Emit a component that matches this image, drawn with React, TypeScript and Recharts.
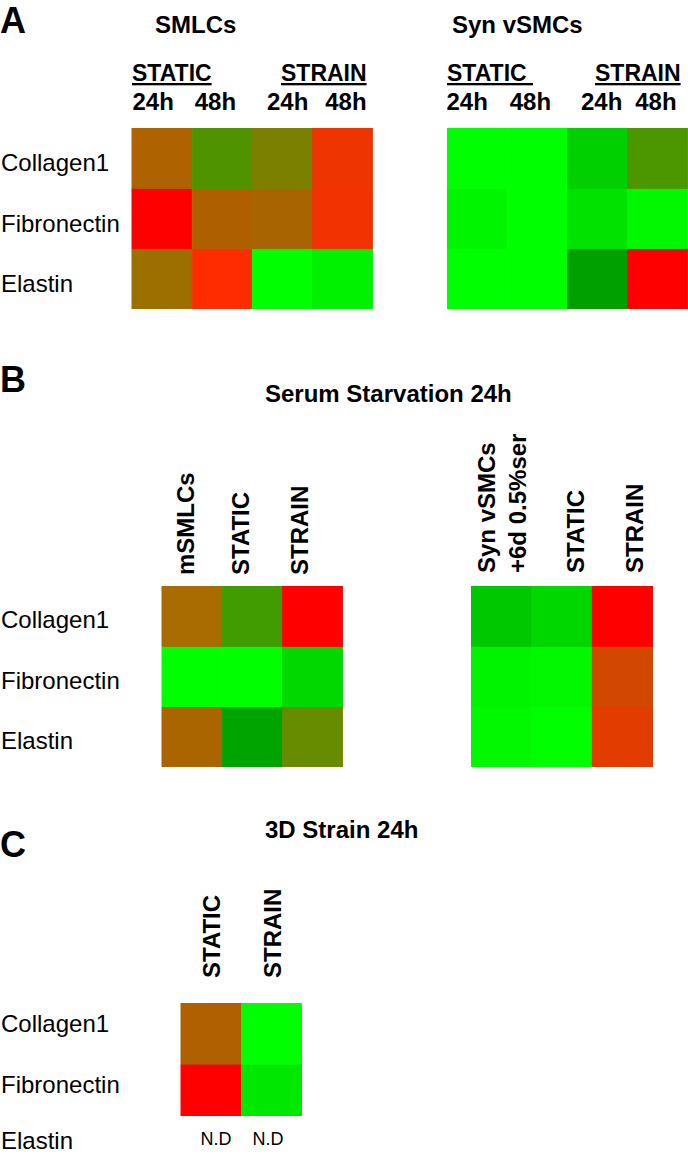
import { BarChart, Bar, XAxis, YAxis, Cell } from 'recharts'

const FONT = '"Liberation Sans", Arial, Helvetica, sans-serif'
const INK = '#000'

const genes = ['Collagen1', 'Fibronectin', 'Elastin']
const genes3d = ['Collagen1', 'Fibronectin']

// panel A
const smlcCols = ['static24', 'static48', 'strain24', 'strain48']
const timeLabels = ['24h', '48h', '24h', '48h']
const smlcColors = [
  ['#AE6200', '#4F9400', '#7C8000', '#EE3400'],
  ['#FF0000', '#AE6000', '#A86400', '#F23200'],
  ['#9C7000', '#FF2C00', '#00FF00', '#00F200'],
]
const synCols = ['static24', 'static48', 'strain24', 'strain48']
const synColors = [
  ['#00FF00', '#00FF00', '#00D000', '#4C9600'],
  ['#00F600', '#00FF00', '#00E200', '#00F800'],
  ['#00FF00', '#00FF00', '#00A000', '#FF0000'],
]

// panel B
const serumLeftCols = ['mSMLCs', 'STATIC', 'STRAIN']
const serumLeftColors = [
  ['#A86C00', '#409C00', '#FF0000'],
  ['#00FF00', '#00FF00', '#00D800'],
  ['#AA6400', '#00A400', '#688C00'],
]
const serumRightCols = ['Syn vSMCs\n+6d 0.5%ser', 'STATIC', 'STRAIN']
const serumRightColors = [
  ['#00C800', '#00D600', '#FF0000'],
  ['#00F400', '#00F800', '#D24800'],
  ['#00F800', '#00FF00', '#E23C00'],
]

// panel C
const strain3dCols = ['STATIC', 'STRAIN']
const strain3dColors = [
  ['#B06000', '#00FF00'],
  ['#FF0000', '#00E800'],
]
const notDetected = ['N.D', 'N.D']

type HeatmapProps = {
  cols: string[]
  labels: string[]
  rows: string[]
  colors: string[][]
  width: number
  height: number
  labelWidth: number
  axisHeight: number
  yDomain?: [number, number]
  rotated?: boolean
  labelDx: number[]
  labelGap: number
  rowDy: number
}

function Heatmap(p: HeatmapProps) {
  const n = p.rows.length
  const data = p.cols.map((c) => {
    const d: Record<string, string | number> = { col: c }
    p.rows.forEach((r) => (d[r] = 1))
    return d
  })
  const ticks = p.rows.map((_, i) => n - i - 0.5)

  const colTick = (props: any) => {
    const { x, y, payload } = props
    const i = payload.index ?? props.index
    const label = p.labels[i]
    const dx = p.labelDx[i] || 0
    if (!p.rotated) {
      return (
        <text x={x + dx} y={y - p.labelGap} textAnchor="middle" fontFamily={FONT} fontWeight="bold" fontSize={24} fill={INK}>
          {label}
        </text>
      )
    }
    const lines = label.split('\n')
    return (
      <g>
        {lines.map((ln, li) => {
          const bx = x + dx + li * 31
          const by = y - p.labelGap
          return (
            <text key={li} x={bx} y={by} transform={`rotate(-90 ${bx} ${by})`} textAnchor="start" fontFamily={FONT} fontWeight="bold" fontSize={24} fill={INK}>
              {ln}
            </text>
          )
        })}
      </g>
    )
  }

  const rowTick = (props: any) => {
    const { y, payload } = props
    const idx = Math.round(n - 0.5 - payload.value)
    return (
      <text x={1} y={y + p.rowDy} textAnchor="start" fontFamily={FONT} fontSize={24} fill={INK}>
        {p.rows[idx]}
      </text>
    )
  }

  return (
    <BarChart width={p.width} height={p.height} data={data} margin={{ top: 0, right: 0, bottom: 0, left: 0 }} barCategoryGap={0} barGap={0}>
      <XAxis dataKey="col" orientation="top" height={p.axisHeight} axisLine={false} tickLine={false} tickSize={0} tickMargin={0} interval={0} tick={colTick} />
      <YAxis
        type="number"
        domain={p.yDomain ?? [0, n]}
        allowDataOverflow
        ticks={ticks}
        interval={0}
        width={p.labelWidth}
        hide={p.labelWidth === 0}
        axisLine={false}
        tickLine={false}
        tickSize={0}
        tickMargin={0}
        tick={rowTick}
      />
      {[...p.rows].reverse().map((r) => {
        const ri = p.rows.indexOf(r)
        return (
          <Bar key={r} dataKey={r} stackId="h" isAnimationActive={false}>
            {p.cols.map((c, ci) => (
              <Cell key={c} fill={p.colors[ri][ci]} stroke={p.colors[ri][ci]} strokeWidth={1} />
            ))}
          </Bar>
        )
      })}
    </BarChart>
  )
}

const place = (left: number, top: number): React.CSSProperties => ({ position: 'absolute', left, top })

export default function App() {
  const bold = { fontFamily: FONT, fontWeight: 'bold' as const, fill: INK }
  return (
    <div style={{ position: 'absolute', left: 0, top: 0, width: 688, height: 1158, background: '#fff', overflow: 'hidden' }}>
      <div style={place(0, 88)}>
        <Heatmap cols={smlcCols} labels={timeLabels} rows={genes} colors={smlcColors} width={373} height={221} labelWidth={132} axisHeight={40} labelDx={[-9, -7, 5, 3]} labelGap={18} rowDy={13} />
      </div>
      <div style={place(447, 88)}>
        <Heatmap cols={synCols} labels={timeLabels} rows={genes} colors={synColors} width={241} height={221} labelWidth={0} axisHeight={40} labelDx={[-10, -7, 4, -2]} labelGap={18} rowDy={13} />
      </div>
      <div style={place(0, 420)}>
        <Heatmap cols={serumLeftCols} labels={serumLeftCols} rows={genes} colors={serumLeftColors} width={343} height={347} labelWidth={162} axisHeight={166} rotated labelDx={[2, -4, -5]} labelGap={11} rowDy={12} />
      </div>
      <div style={place(471, 420)}>
        <Heatmap cols={serumRightCols} labels={serumRightCols} rows={genes} colors={serumRightColors} width={182} height={347} labelWidth={0} axisHeight={166} rotated labelDx={[-6, 22, 20]} labelGap={13} rowDy={12} />
      </div>
      <div style={place(0, 860)}>
        <Heatmap cols={strain3dCols} labels={strain3dCols} rows={genes3d} colors={strain3dColors} width={302} height={256} labelWidth={181} axisHeight={143} yDomain={[0.15, 2]} rotated labelDx={[9, 9]} labelGap={25} rowDy={-2} />
      </div>

      <svg width={688} height={1158} style={{ position: 'absolute', left: 0, top: 0, pointerEvents: 'none' }}>
        <text x={0} y={33} fontSize={36} {...bold}>A</text>
        <text x={155} y={33} fontSize={24} {...bold}>SMLCs</text>
        <text x={452} y={33} fontSize={24} {...bold}>Syn vSMCs</text>
        <text x={132} y={81} fontSize={23} {...bold} textDecoration="underline">STATIC</text>
        <text x={281} y={81} fontSize={23} {...bold} textDecoration="underline">STRAIN</text>
        <text x={447} y={81} fontSize={23} {...bold} textDecoration="underline" style={{ whiteSpace: 'pre' }}>STATIC </text>
        <text x={595} y={81} fontSize={23} {...bold} textDecoration="underline">STRAIN</text>

        <text x={0} y={392} fontSize={36} {...bold}>B</text>
        <text x={265} y={402} fontSize={24} {...bold}>Serum Starvation 24h</text>

        <text x={0} y={857} fontSize={36} {...bold}>C</text>
        <text x={265} y={838} fontSize={24} {...bold}>3D Strain 24h</text>
        <text x={1} y={1149} fontSize={24} fontFamily={FONT} fill={INK}>Elastin</text>
        {notDetected.map((t, i) => (
          <text key={i} x={[216, 268][i]} y={1145} textAnchor="middle" fontSize={18} fontFamily={FONT} fill={INK}>{t}</text>
        ))}
      </svg>
    </div>
  )
}
